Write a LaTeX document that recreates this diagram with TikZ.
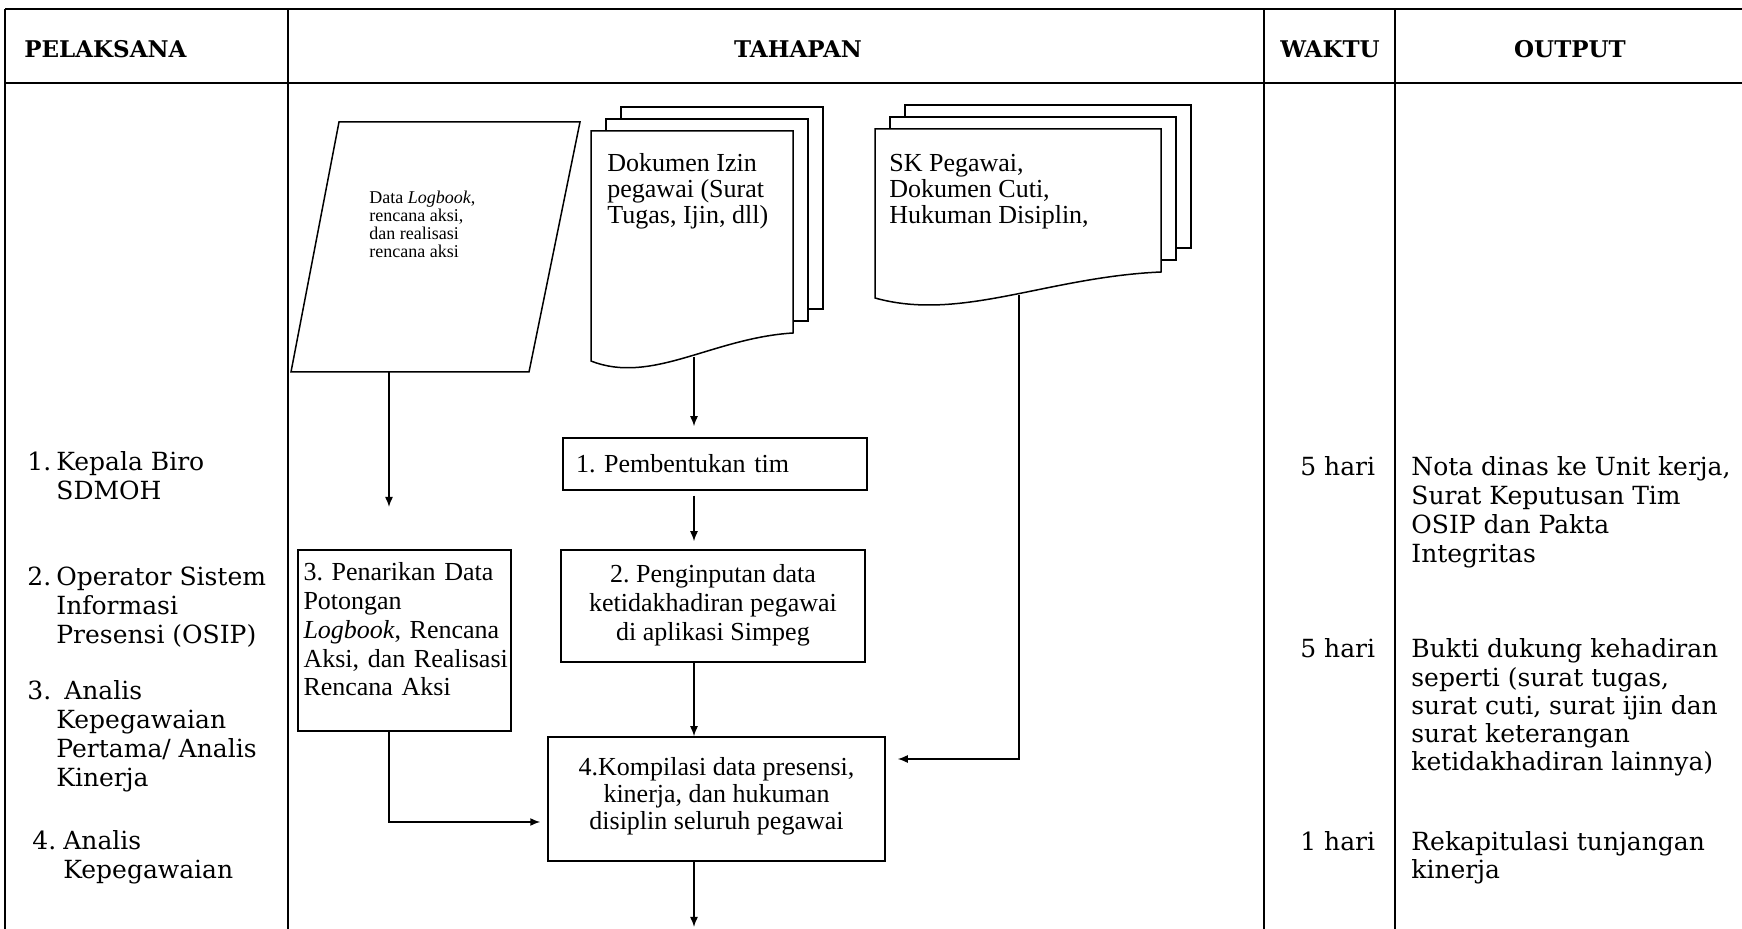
\documentclass[tikz,border=0pt]{standalone}
\usepackage{fontspec}
\setmainfont{Liberation Serif}
\newfontfamily\bookman{DejaVu Serif}
\usetikzlibrary{arrows.meta,calc}
\frenchspacing

% tumpukan dokumen : x, y (kiri atas depan), lebar, tinggi kanan, tinggi kiri
\newcommand{\tumpukdok}[5]{%
  \filldraw[garis,fill=white] ({#1+30},{#2-24}) rectangle ({#1+#3+30},{#2+#4-24});
  \filldraw[garis,fill=white] ({#1+15},{#2-12}) rectangle ({#1+#3+15},{#2+#4-12});
  \filldraw[garis,fill=white] (#1,#2) -- ({#1+#3},#2) -- ({#1+#3},{#2+#4})
    .. controls ({#1+0.6*#3},{#2+#4+5}) and ({#1+0.3*#3},{#2+#5+24}) .. (#1,{#2+#5}) -- cycle;
}
% geser teks kotak ke atas
\newcommand{\naik}[2]{\raisebox{#1}[\height][\depth]{#2}}

\begin{document}
\begin{tikzpicture}[x=0.5pt,y=-0.5pt,
  tbl/.style={line width=1pt},
  garis/.style={line width=0.75pt},
  panah/.style={garis,-{Latex[length=5pt,width=4pt]}},
  judul/.style={font=\bookman\bfseries\fontsize{11.5}{13}\selectfont,inner sep=0pt},
  kolom/.style={font=\bookman\fontsize{12.5}{14.5}\selectfont,inner sep=0pt,anchor=base west},
  proses/.style={draw,garis,font=\fontsize{13}{14}\selectfont,inner sep=0pt},
  teks/.style={inner sep=0pt,anchor=base west,font=\fontsize{13}{12.8}\selectfont}]

\useasboundingbox (0,0) rectangle (1742,929);

% ===== Tabel =====
\draw[tbl] (5,9) -- (1742,9);
\draw[tbl] (5,83) -- (1742,83);
\foreach \kx in {5,288,1264,1395}
  \draw[tbl] (\kx,9) -- (\kx,929);

\node[judul,anchor=west] (hpel) at (24,49) {PELAKSANA};
\node[judul] (htah) at (798,49) {TAHAPAN};
\node[judul] (hwak) at (1330,49) {WAKTU};
\node[judul] (hout) at (1570,49) {OUTPUT};

% ===== Pelaksana =====
\node[kolom] (p1) at (27,471) {\begin{tabular}[t]{@{}p{14.5pt}@{}l@{}}1. & Kepala Biro\\ & SDMOH\end{tabular}};
\node[kolom] (p2) at (27,586) {\begin{tabular}[t]{@{}p{14.5pt}@{}l@{}}2. & Operator Sistem\\ & Informasi\\ & Presensi (OSIP)\end{tabular}};
\node[kolom] (p3) at (27,700) {\begin{tabular}[t]{@{}p{14.5pt}@{}l@{}}3. & \ Analis\\ & Kepegawaian\\ & Pertama/ Analis\\ & Kinerja\end{tabular}};
\node[kolom] (p4) at (32,850) {\begin{tabular}[t]{@{}p{15.5pt}@{}l@{}}4. & Analis\\ & Kepegawaian\end{tabular}};

% ===== Waktu dan output =====
\node[kolom] (w1) at (1300,476) {5 hari};
\node[kolom] (w2) at (1300,658) {5 hari};
\node[kolom] (w3) at (1300,851) {1 hari};

\node[kolom] (o1) at (1411,476)
  {\begin{tabular}[t]{@{}l@{}}Nota dinas ke Unit kerja,\\Surat Keputusan Tim\\OSIP dan Pakta\\Integritas\end{tabular}};
\node[kolom,font=\bookman\fontsize{12.5}{14.1}\selectfont] (o2) at (1411,658)
  {\begin{tabular}[t]{@{}l@{}}Bukti dukung kehadiran\\seperti (surat tugas,\\surat cuti, surat ijin dan\\surat keterangan\\ketidakhadiran lainnya)\end{tabular}};
\node[kolom,font=\bookman\fontsize{12.5}{13.6}\selectfont] (o3) at (1411,851)
  {\begin{tabular}[t]{@{}l@{}}Rekapitulasi tunjangan\\kinerja\end{tabular}};

% ===== Input data =====
\coordinate (lbA) at (291,372);
\coordinate (lbB) at (529,372);
\coordinate (lbC) at (580,122);
\coordinate (lbD) at (339,122);
\filldraw[garis,fill=white] (lbA) -- (lbB) -- (lbC) -- (lbD) -- cycle;
\node[teks,font=\fontsize{9}{8.9}\selectfont] (logbook) at (369,204)
  {\begin{tabular}[t]{@{}l@{}}Data \textit{Logbook},\\rencana aksi,\\dan realisasi\\rencana aksi\end{tabular}};

\tumpukdok{591}{131}{202}{202}{230}
\node[teks] (dokizin) at (607,172)
  {\begin{tabular}[t]{@{}l@{}}Dokumen Izin\\pegawai (Surat\\Tugas, Ijin, dll)\end{tabular}};

\tumpukdok{875}{129}{286}{143}{169}
\node[teks] (dokpeg) at (889,172)
  {\begin{tabular}[t]{@{}l@{}}SK Pegawai,\\Dokumen Cuti,\\Hukuman Disiplin,\end{tabular}};

% ===== Proses =====
\node[proses,minimum width=152pt,minimum height=26pt,text width=139pt,align=left]
  (tim) at (715,464) {1. Pembentukan tim};
\node[proses,minimum width=152pt,minimum height=56pt,font=\fontsize{13}{14.5}\selectfont]
  (input) at (713,606) {\begin{tabular}{@{}c@{}}2. Penginputan data\\ketidakhadiran pegawai\\di aplikasi Simpeg\end{tabular}};
\node[proses,minimum width=106.5pt,minimum height=90.5pt,text width=101pt,align=left,font=\fontsize{13}{14.4}\selectfont]
  (tarik) at (404.5,640.5) {\naik{4pt}{\begin{tabular}{@{}l@{}}3. Penarikan Data\\Potongan\\\textit{Logbook}, Rencana\\Aksi, dan Realisasi\\Rencana Aksi\end{tabular}}};
\node[proses,minimum width=168.5pt,minimum height=62pt,font=\fontsize{13}{13.5}\selectfont]
  (kompil) at (716.5,799) {\naik{1pt}{\begin{tabular}{@{}c@{}}4.Kompilasi data presensi,\\kinerja, dan hukuman\\disiplin seluruh pegawai\end{tabular}}};

% ===== Panah =====
\coordinate (lbout) at (389,372);
\coordinate (lbend) at (389,507);
\coordinate (izinout) at (694,357);
\coordinate (pegout) at (1019,295);
\coordinate (pegbelok) at (1019,759);
\coordinate (tarikbelok) at (389,822);
\coordinate (akhir) at (694,927);

\draw[panah] (lbout) -- (lbend);
\draw[panah,shorten >=5.5pt] (izinout) -- (izinout |- tim.north);
\draw[panah,shorten <=2.5pt,shorten >=4pt] (tim.south -| izinout) -- (izinout |- input.north);
\draw[panah] (input.south -| izinout) -- (izinout |- kompil.north);
\draw[panah] (kompil.south -| akhir) -- (akhir);
\draw[panah,shorten >=3.5pt] (tarik.south -| tarikbelok) -- (tarikbelok) -- (tarikbelok -| kompil.west);
\draw[panah,shorten >=6pt] (pegout) -- (pegbelok) -- (pegbelok -| kompil.east);

\end{tikzpicture}
\end{document}
